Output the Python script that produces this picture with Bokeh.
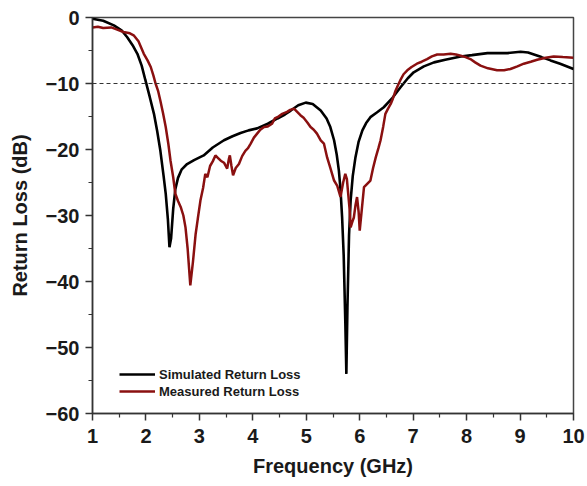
from bokeh.plotting import figure
from bokeh.models import Legend, LegendItem, Span, FixedTicker, Range1d
from bokeh.embed import file_html
from bokeh.resources import INLINE

# Simulated return loss (GHz, dB)
sim_freq = [1.00, 1.20, 1.40, 1.55, 1.65, 1.75, 1.84, 1.92, 1.99, 2.07, 2.15, 2.21, 2.27, 2.33,
            2.37, 2.41, 2.44, 2.47, 2.51, 2.55, 2.60, 2.67, 2.77, 2.90, 3.08, 3.25, 3.46, 3.62,
            3.77, 3.92, 4.08, 4.28, 4.46, 4.60, 4.71, 4.85, 4.99, 5.12, 5.27, 5.38, 5.45, 5.52,
            5.57, 5.61, 5.64, 5.67, 5.70, 5.73, 5.75, 5.77, 5.80, 5.83, 5.87, 5.92, 5.98, 6.05,
            6.12, 6.20, 6.32, 6.45, 6.60, 6.76, 6.90, 7.01, 7.20, 7.39, 7.60, 7.89, 8.10, 8.39,
            8.60, 8.76, 9.01, 9.15, 9.26, 9.40, 9.57, 9.75, 10.00]
sim_rl = [-0.2, -0.5, -1.2, -2.0, -3.0, -4.2, -5.5, -7.3, -9.5, -12.0, -14.6, -17.2, -20.2, -24.0,
          -26.7, -30.5, -34.8, -33.5, -29.0, -26.0, -24.3, -23.0, -22.2, -21.6, -20.9, -19.7, -18.6, -18.0,
          -17.5, -17.1, -16.8, -16.1, -15.3, -14.7, -14.1, -13.3, -12.9, -13.1, -14.1, -15.3, -16.6, -18.6,
          -20.8, -23.2, -26.0, -30.2, -36.0, -46.0, -54.0, -44.0, -33.0, -27.7, -24.0, -21.2, -18.8, -17.1,
          -16.0, -15.1, -14.4, -13.6, -12.3, -10.6, -9.2, -8.3, -7.4, -6.8, -6.4, -5.9, -5.7, -5.4,
          -5.4, -5.4, -5.2, -5.3, -5.6, -6.0, -6.5, -7.0, -7.8]

# Measured return loss (GHz, dB)
meas_freq = [1.00, 1.10, 1.20, 1.35, 1.45, 1.58, 1.70, 1.77, 1.86, 1.96, 2.03, 2.09, 2.14, 2.18,
             2.23, 2.27, 2.32, 2.37, 2.42, 2.46, 2.51, 2.55, 2.60, 2.65, 2.70, 2.74, 2.78, 2.83,
             2.88, 2.93, 2.97, 3.02, 3.07, 3.11, 3.15, 3.20, 3.25, 3.30, 3.35, 3.40, 3.46, 3.52,
             3.55, 3.57, 3.60, 3.63, 3.68, 3.74, 3.80, 3.86, 3.91, 3.96, 4.02, 4.08, 4.14, 4.21,
             4.28, 4.36, 4.41, 4.46, 4.55, 4.64, 4.70, 4.77, 4.83, 4.89, 4.95, 5.02, 5.08, 5.14,
             5.20, 5.27, 5.33, 5.39, 5.45, 5.52, 5.58, 5.64, 5.69, 5.73, 5.76, 5.78, 5.81, 5.83,
             5.86, 5.89, 5.92, 5.95, 5.98, 6.00, 6.04, 6.08, 6.14, 6.20, 6.25, 6.30, 6.35, 6.39,
             6.44, 6.48, 6.53, 6.58, 6.62, 6.67, 6.72, 6.76, 6.82, 6.89, 6.97, 7.07, 7.16, 7.26,
             7.35, 7.45, 7.57, 7.70, 7.80, 7.89, 7.98, 8.07, 8.16, 8.26, 8.40, 8.57, 8.70, 8.82,
             8.95, 9.07, 9.20, 9.32, 9.48, 9.63, 9.80, 10.00]
meas_rl = [-1.5, -1.4, -1.6, -1.5, -1.8, -2.2, -2.4, -2.7, -3.6, -5.5, -6.5, -7.5, -8.8, -10.0,
           -11.2, -12.6, -14.5, -16.6, -19.2, -21.7, -24.2, -26.7, -27.8, -28.7, -30.0, -31.8, -35.0, -40.6,
           -37.0, -32.8, -30.5, -27.7, -25.8, -23.7, -24.2, -22.5, -21.8, -20.9, -21.3, -21.7, -22.0, -22.9,
           -21.5, -20.9, -22.5, -23.9, -22.8, -22.2, -21.0, -20.2, -19.8, -19.1, -18.2, -17.6, -17.0, -16.6,
           -16.5, -16.1, -15.3, -15.1, -14.6, -14.3, -14.0, -13.8, -14.3, -14.8, -15.2, -15.9, -16.6, -17.0,
           -17.6, -18.6, -19.1, -21.2, -22.8, -24.7, -25.5, -27.2, -25.0, -23.7, -24.5, -26.3, -29.0, -31.8,
           -31.0, -30.3, -28.5, -27.2, -29.5, -32.3, -29.0, -25.7, -25.2, -24.7, -22.8, -21.2, -19.8, -18.6,
           -16.5, -14.6, -13.8, -13.1, -12.3, -11.1, -10.2, -9.5, -8.6, -8.0, -7.5, -7.0, -6.7, -6.3,
           -5.9, -5.6, -5.6, -5.5, -5.6, -5.8, -6.0, -6.3, -6.8, -7.3, -7.7, -8.0, -8.0, -7.8,
           -7.4, -7.0, -6.7, -6.4, -6.1, -5.9, -6.0, -6.1]

x_ticks = [1, 2, 3, 4, 5, 6, 7, 8, 9, 10]
y_ticks = [0, -10, -20, -30, -40, -50, -60]
threshold = -10

FONT = "Liberation Sans"
RED = "#8a1010"

p = figure(width=587, height=486, output_backend="svg", toolbar_location=None,
           x_range=Range1d(1, 10), y_range=Range1d(-60, 0),
           min_border_left=92, min_border_right=14, min_border_top=17, min_border_bottom=73)

p.xgrid.visible = False
p.ygrid.visible = False
p.outline_line_color = "#444444"
p.outline_line_width = 1.5
p.background_fill_color = "white"
p.border_fill_color = "white"

p.add_layout(Span(location=threshold, dimension="width", line_color="#333333",
                  line_width=1, line_dash="4 3"))

r_sim = p.line(sim_freq, sim_rl, line_color="black", line_width=2.6)
r_meas = p.line(meas_freq, meas_rl, line_color=RED, line_width=2.5)

p.xaxis.ticker = FixedTicker(ticks=x_ticks, minor_ticks=[x + 0.5 for x in x_ticks[:-1]])
p.yaxis.ticker = FixedTicker(ticks=y_ticks, minor_ticks=[y - 5 for y in y_ticks[:-1]])

for ax in (p.xaxis[0], p.yaxis[0]):
    ax.axis_line_color = "#333333"
    ax.axis_line_width = 1.5
    ax.major_tick_line_color = "#333333"
    ax.minor_tick_line_color = "#333333"
    ax.major_tick_line_width = 1.5
    ax.minor_tick_line_width = 1.2
    ax.major_tick_in = 0
    ax.major_tick_out = 7
    ax.minor_tick_in = 0
    ax.minor_tick_out = 4
    ax.major_label_text_font = FONT
    ax.major_label_text_font_style = "bold"
    ax.major_label_text_font_size = "20px"
    ax.major_label_text_color = "#1a1a1a"
    ax.axis_label_text_font = FONT
    ax.axis_label_text_font_style = "bold"
    ax.axis_label_text_font_size = "20px"
    ax.axis_label_text_color = "#1a1a1a"

p.xaxis.axis_label = "Frequency (GHz)"
p.yaxis.axis_label = "Return Loss (dB)"
p.xaxis.major_label_standoff = 8
p.xaxis.axis_label_standoff = 9
p.yaxis.major_label_standoff = 6
p.yaxis.axis_label_standoff = 12

legend = Legend(items=[LegendItem(label="Simulated Return Loss", renderers=[r_sim]),
                       LegendItem(label="Measured Return Loss", renderers=[r_meas])],
                location=(27, 14), orientation="vertical")
legend.border_line_color = None
legend.background_fill_alpha = 0
legend.label_text_font = FONT
legend.label_text_font_style = "bold"
legend.label_text_font_size = "13px"
legend.label_text_color = "#1a1a1a"
legend.glyph_width = 36
legend.glyph_height = 16
legend.label_height = 16
legend.label_standoff = 4
legend.spacing = 1
legend.padding = 2
legend.margin = 0
p.add_layout(legend)

open("out.html", "w").write(file_html(p, INLINE))
